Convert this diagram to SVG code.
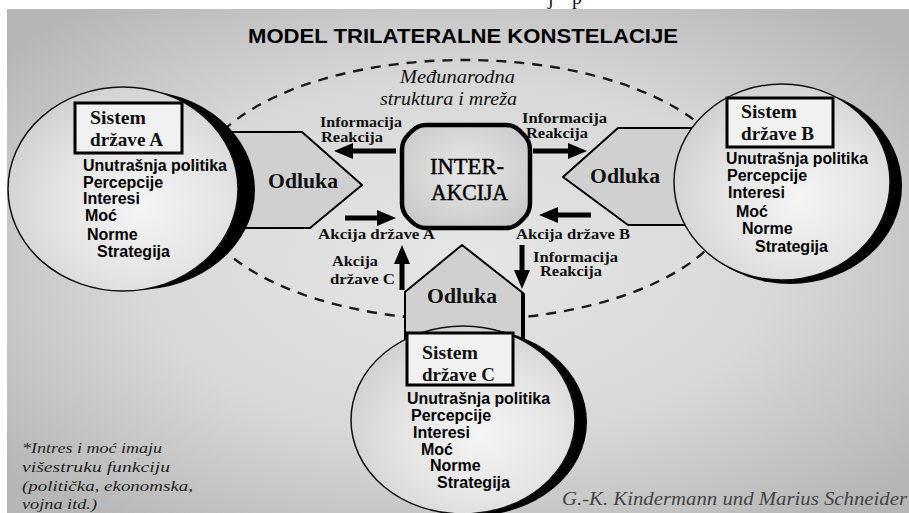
<svg xmlns="http://www.w3.org/2000/svg" width="909" height="513" viewBox="0 0 909 513">
<defs>
<radialGradient id="bg" cx="50%" cy="50%" r="65%">
<stop offset="0" stop-color="#e6e6e6"/>
<stop offset="0.55" stop-color="#d8d8d8"/>
<stop offset="1" stop-color="#b6b6b6"/>
</radialGradient>
<radialGradient id="disc" cx="58%" cy="58%" r="60%">
<stop offset="0" stop-color="#f4f4f4"/>
<stop offset="0.6" stop-color="#e4e4e4"/>
<stop offset="1" stop-color="#d2d2d2"/>
</radialGradient>
<radialGradient id="oct" cx="50%" cy="45%" r="60%">
<stop offset="0" stop-color="#e8e8e8"/>
<stop offset="1" stop-color="#cacaca"/>
</radialGradient>
<linearGradient id="topline" x1="0" y1="0" x2="1" y2="0">
<stop offset="0" stop-color="#555"/>
<stop offset="0.7" stop-color="#444"/>
<stop offset="1" stop-color="#999" stop-opacity="0"/>
</linearGradient>
<marker id="ah" markerUnits="userSpaceOnUse" markerWidth="19" markerHeight="16" viewBox="0 0 19 16" refX="1" refY="8" orient="auto">
<path d="M0,0 L19,8 L0,16 z" fill="#000"/>
</marker>
<style>
.shadow{fill:#000}
.disc{fill:url(#disc);stroke:#111;stroke-width:1.5}
.odl{fill:#d0d0d0;stroke:#000;stroke-width:2;stroke-linejoin:round}
.box{fill:#f1f1f1;stroke:#000;stroke-width:3}
.bt{font-family:"Liberation Serif",serif;font-weight:bold;font-size:19px;fill:#111}
.lst{font-family:"Liberation Sans",Arial,sans-serif;font-weight:bold;font-size:16px;fill:#000}
.odt{font-family:"Liberation Serif",serif;font-weight:bold;font-size:22px;fill:#111}
.lab{font-family:"Liberation Serif",serif;font-weight:bold;font-size:14px;fill:#111}
.it{font-family:"Liberation Serif",serif;font-style:italic;font-size:18px;fill:#111}
.foot{font-family:"Liberation Serif",serif;font-style:italic;font-size:15px;fill:#222}
.ia{font-family:"Liberation Serif",serif;font-size:24px;fill:#000;stroke:#000;stroke-width:0.5}
.arr{stroke:#000;stroke-width:5;fill:none;marker-end:url(#ah)}
</style>
</defs>
<rect width="909" height="513" fill="#fff"/>
<rect x="7" y="9" width="902" height="504" fill="url(#bg)"/>
<line x1="7" y1="9.5" x2="300" y2="9.5" stroke="url(#topline)" stroke-width="2"/>
<text x="548" y="4" font-family="Liberation Serif,serif" font-size="20" fill="#111">j</text>
<text x="572" y="4" font-family="Liberation Serif,serif" font-size="20" fill="#111">p</text>

<text id="title" x="248" y="43" font-family="Liberation Sans,Arial,sans-serif" font-weight="bold" font-size="21" textLength="430" lengthAdjust="spacingAndGlyphs" fill="#000">MODEL TRILATERALNE KONSTELACIJE</text>

<g id="environment">
<ellipse cx="465" cy="190" rx="272" ry="130" fill="none" stroke="#1a1a1a" stroke-width="2.4" stroke-dasharray="10 8"/>
<text class="it" x="400" y="83" textLength="115" lengthAdjust="spacingAndGlyphs">Međunarodna</text>
<text class="it" x="380" y="105" textLength="137" lengthAdjust="spacingAndGlyphs">struktura i mreža</text>
</g>

<g id="odluka-a">
<polygon class="odl" points="225,132 302,132 362,185 310,228 225,228"/>
<text class="odt" x="268" y="188" textLength="70" lengthAdjust="spacingAndGlyphs">Odluka</text>
</g>
<g id="odluka-b">
<polygon class="odl" points="720,128 618,128 563,177 628,225 720,225"/>
<text class="odt" x="590" y="183" textLength="70" lengthAdjust="spacingAndGlyphs">Odluka</text>
</g>
<g id="odluka-c">
<polygon class="odl" points="405,348 405,292 462,245 523,293 523,348"/>
<line x1="523" y1="293" x2="523" y2="345" stroke="#000" stroke-width="4"/>
<text class="odt" x="427" y="303" textLength="70" lengthAdjust="spacingAndGlyphs">Odluka</text>
</g>

<g id="sistem-a">
<ellipse class="shadow" cx="136" cy="190" rx="119" ry="100"/>
<ellipse class="disc" cx="123" cy="189" rx="115" ry="102"/>
<rect class="box" x="75" y="103" width="107" height="50"/>
<text class="bt" x="90" y="124" textLength="56" lengthAdjust="spacingAndGlyphs">Sistem</text>
<text class="bt" x="90" y="146" textLength="73" lengthAdjust="spacingAndGlyphs">države A</text>
<text class="lst" x="83" y="171" textLength="144" lengthAdjust="spacingAndGlyphs">Unutrašnja politika</text>
<text class="lst" x="83" y="188">Percepcije</text>
<text class="lst" x="83" y="204">Interesi</text>
<text class="lst" x="85" y="221">Moć</text>
<text class="lst" x="87" y="240">Norme</text>
<text class="lst" x="97" y="257">Strategija</text>
</g>

<g id="sistem-b">
<ellipse class="shadow" cx="790" cy="186" rx="112" ry="98"/>
<ellipse class="disc" cx="782" cy="182" rx="108" ry="98"/>
<rect class="box" x="727" y="98" width="106" height="49"/>
<text class="bt" x="741" y="118" textLength="56" lengthAdjust="spacingAndGlyphs">Sistem</text>
<text class="bt" x="741" y="140" textLength="73" lengthAdjust="spacingAndGlyphs">države B</text>
<text class="lst" x="726" y="164" textLength="142" lengthAdjust="spacingAndGlyphs">Unutrašnja politika</text>
<text class="lst" x="727" y="181">Percepcije</text>
<text class="lst" x="728" y="198">Interesi</text>
<text class="lst" x="736" y="217">Moć</text>
<text class="lst" x="742" y="234">Norme</text>
<text class="lst" x="755" y="252">Strategija</text>
</g>

<g id="sistem-c">
<ellipse class="shadow" cx="472" cy="422" rx="115" ry="94"/>
<ellipse class="disc" cx="463" cy="420" rx="112" ry="94"/>
<rect class="box" x="407" y="333" width="106" height="52"/>
<text class="bt" x="422" y="359" textLength="56" lengthAdjust="spacingAndGlyphs">Sistem</text>
<text class="bt" x="422" y="381" textLength="73" lengthAdjust="spacingAndGlyphs">države C</text>
<text class="lst" x="407" y="404" textLength="143" lengthAdjust="spacingAndGlyphs">Unutrašnja politika</text>
<text class="lst" x="411" y="421">Percepcije</text>
<text class="lst" x="413" y="438">Interesi</text>
<text class="lst" x="421" y="455">Moć</text>
<text class="lst" x="430" y="471">Norme</text>
<text class="lst" x="437" y="488">Strategija</text>
</g>

<g id="interakcija">
<path d="M426,125 L506,125 Q514,125 520,131 L524,135 Q530,141 530,150 L530,203 Q530,212 524,218 L520,222 Q514,228 506,228 L426,228 Q418,228 412,222 L408,218 Q402,212 402,203 L402,150 Q402,141 408,135 L412,131 Q418,125 426,125 Z" fill="url(#oct)" stroke="#000" stroke-width="4.5" stroke-linejoin="round"/>
<text class="ia" x="430" y="174" textLength="74" lengthAdjust="spacingAndGlyphs">INTER-</text>
<text class="ia" x="431" y="200" textLength="77" lengthAdjust="spacingAndGlyphs">AKCIJA</text>
</g>

<g id="connectors">
<line class="arr" x1="396" y1="151" x2="352" y2="151"/>
<line class="arr" x1="533" y1="151" x2="569" y2="151"/>
<line class="arr" x1="345" y1="218" x2="378" y2="218"/>
<line class="arr" x1="591" y1="215" x2="557" y2="215"/>
<line class="arr" x1="402" y1="290" x2="402" y2="263"/>
<line class="arr" x1="522" y1="245" x2="522" y2="271"/>
</g>

<g id="labels">
<text class="lab" x="320" y="127" textLength="82" lengthAdjust="spacingAndGlyphs">Informacija</text>
<text class="lab" x="321" y="142" textLength="62" lengthAdjust="spacingAndGlyphs">Reakcija</text>
<text class="lab" x="522" y="123" textLength="85" lengthAdjust="spacingAndGlyphs">Informacija</text>
<text class="lab" x="526" y="138" textLength="62" lengthAdjust="spacingAndGlyphs">Reakcija</text>
<text class="lab" x="318" y="239" textLength="117" lengthAdjust="spacingAndGlyphs">Akcija države A</text>
<text class="lab" x="516" y="239" textLength="114" lengthAdjust="spacingAndGlyphs">Akcija države B</text>
<text class="lab" x="332" y="266" textLength="46" lengthAdjust="spacingAndGlyphs">Akcija</text>
<text class="lab" x="330" y="284" textLength="65" lengthAdjust="spacingAndGlyphs">države C</text>
<text class="lab" x="533" y="262" textLength="85" lengthAdjust="spacingAndGlyphs">Informacija</text>
<text class="lab" x="540" y="276" textLength="62" lengthAdjust="spacingAndGlyphs">Reakcija</text>
</g>

<g id="footnote">
<text class="foot" x="22" y="453" textLength="140" lengthAdjust="spacingAndGlyphs">*Intres i moć imaju</text>
<text class="foot" x="22" y="472" textLength="148" lengthAdjust="spacingAndGlyphs">višestruku funkciju</text>
<text class="foot" x="22" y="491" textLength="171" lengthAdjust="spacingAndGlyphs">(politička, ekonomska,</text>
<text class="foot" x="22" y="509" textLength="75" lengthAdjust="spacingAndGlyphs">vojna itd.)</text>
</g>
<text id="credit" x="562" y="505" font-family="Liberation Serif,serif" font-style="italic" font-size="18" textLength="345" lengthAdjust="spacingAndGlyphs" fill="#444">G.-K. Kindermann und Marius Schneider</text>
</svg>
